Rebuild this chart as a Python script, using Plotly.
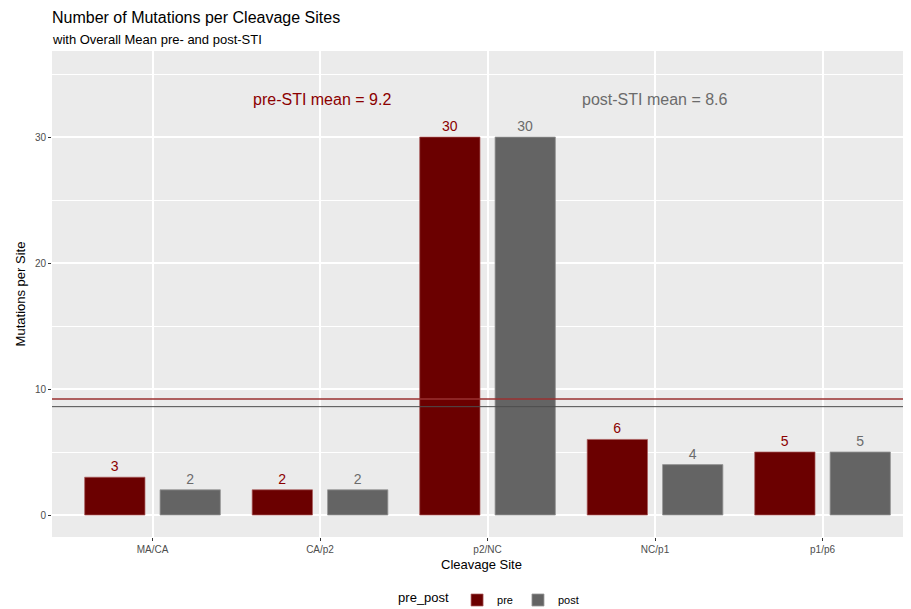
import plotly.graph_objects as go

sites = ["MA/CA", "CA/p2", "p2/NC", "NC/p1", "p1/p6"]
pre_values = [3, 2, 30, 6, 5]
post_values = [2, 2, 30, 4, 5]
pre_mean = 9.2
post_mean = 8.6
y_ticks = [0, 10, 20, 30]

PRE_FILL = "#6B0000"
POST_FILL = "#646464"
PRE_TEXT = "#8B0000"
POST_TEXT = "#6B6B6B"
FONT = "Liberation Sans, Arial, sans-serif"

# The page body has an 8px default margin, so the figure is sized to fill the
# rest of the 911x609 window.
W, H = 903, 601

fig = go.Figure()
fig.add_trace(go.Bar(
    x=sites, y=pre_values, name="pre",
    marker=dict(color=PRE_FILL, line=dict(color="rgba(170,90,90,0.7)", width=1)),
    text=[str(v) for v in pre_values], textposition="outside",
    textfont=dict(color=PRE_TEXT, size=14, family=FONT), cliponaxis=False,
))
fig.add_trace(go.Bar(
    x=sites, y=post_values, name="post",
    marker=dict(color=POST_FILL, line=dict(color="rgba(150,150,150,0.8)", width=1)),
    text=[str(v) for v in post_values], textposition="outside",
    textfont=dict(color=POST_TEXT, size=14, family=FONT), cliponaxis=False,
))

# mean lines
fig.add_shape(type="line", xref="paper", x0=0, x1=1, yref="y", y0=pre_mean, y1=pre_mean,
              line=dict(color="#9A3030", width=1.5), layer="above")
fig.add_shape(type="line", xref="paper", x0=0, x1=1, yref="y", y0=post_mean, y1=post_mean,
              line=dict(color="#4D4D4D", width=1), layer="above")

fig.add_annotation(x="CA/p2", y=33, text=f"pre-STI mean = {pre_mean}", showarrow=False,
                   xshift=2, font=dict(color=PRE_TEXT, size=16, family=FONT))
fig.add_annotation(x="NC/p1", y=33, text=f"post-STI mean = {post_mean}", showarrow=False,
                   font=dict(color=POST_TEXT, size=16, family=FONT))

# title and subtitle
fig.add_annotation(xref="paper", yref="paper", x=0, y=1, xanchor="left", yanchor="middle",
                   xshift=-2, yshift=34, text="Number of Mutations per Cleavage Sites",
                   showarrow=False, font=dict(size=16, color="black", family=FONT))
fig.add_annotation(xref="paper", yref="paper", x=0, y=1, xanchor="left", yanchor="middle",
                   xshift=-2, yshift=12, text="with Overall Mean pre- and post-STI",
                   showarrow=False, font=dict(size=13, color="black", family=FONT))

fig.update_layout(
    width=W, height=H,
    margin=dict(l=44, r=0, t=43, b=72),
    paper_bgcolor="white", plot_bgcolor="#EBEBEB",
    font=dict(family=FONT, color="black"),
    barmode="group", bargap=0.1, bargroupgap=0.2,
    showlegend=True,
    legend=dict(orientation="h", x=0.51, xanchor="center",
                yref="container", y=1 - 592 / H, yanchor="middle",
                title=dict(text="pre_post", font=dict(size=13, color="black")),
                font=dict(size=11, color="black")),
    xaxis=dict(
        range=[-0.6, 4.528], showgrid=True, gridcolor="white", gridwidth=1.5,
        ticks="outside", ticklen=3, tickcolor="#333333",
        tickfont=dict(size=10, color="#4D4D4D"),
        title=dict(text="Cleavage Site", font=dict(size=13), standoff=5),
        zeroline=False, automargin=False,
    ),
    yaxis=dict(
        range=[-1.746, 36.83], tickvals=y_ticks, showgrid=True, gridcolor="white", gridwidth=1.5,
        ticks="outside", ticklen=3, tickcolor="#333333",
        tickfont=dict(size=10, color="#4D4D4D"),
        title=dict(text="Mutations per Site", font=dict(size=13), standoff=6),
        zeroline=False, automargin=False,
        minor=dict(tickvals=[5, 15, 25, 35], showgrid=True, gridcolor="white", gridwidth=0.7, ticks=""),
    ),
)

fig.write_html("out.html")
